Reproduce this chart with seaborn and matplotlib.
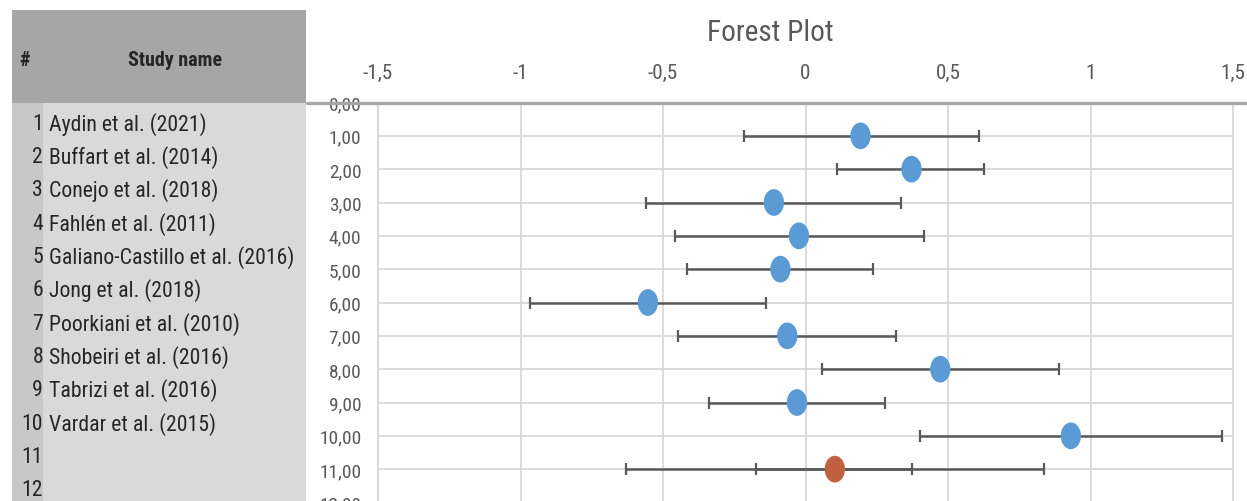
import matplotlib
matplotlib.use("Agg")
import numpy as np
import pandas as pd
import matplotlib.pyplot as plt
import seaborn as sns
from matplotlib import font_manager
from matplotlib.path import Path
from matplotlib.patches import Rectangle
from matplotlib.lines import Line2D
from matplotlib.ticker import FixedLocator, FuncFormatter
from matplotlib.transforms import blended_transform_factory

# ---- data -------------------------------------------------------------
studies = [
    "Aydin et al. (2021)",
    "Buffart et al. (2014)",
    "Conejo et al. (2018)",
    "Fahlén et al. (2011)",
    "Galiano-Castillo et al. (2016)",
    "Jong et al. (2018)",
    "Poorkiani et al. (2010)",
    "Shobeiri et al. (2016)",
    "Tabrizi et al. (2016)",
    "Vardar et al. (2015)",
]
effect = [0.193, 0.372, -0.111, -0.023, -0.088, -0.553, -0.064, 0.473, -0.030, 0.931]
ci_low = [-0.216, 0.109, -0.558, -0.458, -0.415, -0.966, -0.448, 0.058, -0.340, 0.400]
ci_high = [0.608, 0.628, 0.335, 0.415, 0.236, -0.138, 0.319, 0.888, 0.280, 1.461]

pooled_effect = 0.103
pooled_ci = [-0.175, 0.374]
pooled_pi = [-0.630, 0.838]

row_numbers = list(range(1, 13))
x_ticks = [-1.5, -1.0, -0.5, 0.0, 0.5, 1.0, 1.5]
y_ticks = list(range(0, 13))

# ---- style ------------------------------------------------------------
sns.set_theme(style="white")
installed = {f.name for f in font_manager.fontManager.ttflist}
preferred = ["Liberation Sans Narrow", "DejaVu Sans Condensed", "Roboto Condensed",
             "Open Sans Condensed", "Lato"]
FONT = next((f for f in preferred if f in installed), "DejaVu Sans")
plt.rcParams["font.family"] = [FONT, "DejaVu Sans"]

BLUE = "#5b9bd5"
RED = "#c0603f"
BAR = "#595959"
GRID = "#d9d9d9"
TXT_GREY = "#595959"
TXT_DARK = "#262626"

W, H = 1247, 502
fig = plt.figure(figsize=(W / 100, H / 100), dpi=100)
fig.patch.set_facecolor("white")
renderer = fig.canvas.get_renderer()


def fx(px):
    return px / W


def fy(py):
    return 1 - py / H


def fit_size(text, width_px, weight="normal", base=20.0):
    """Font size (pt) at which `text` spans `width_px` pixels."""
    t = fig.text(0, 0, text, fontsize=base, fontweight=weight)
    w = t.get_window_extent(renderer).width
    t.remove()
    return base * width_px / w


size_rows = fit_size("Galiano-Castillo et al. (2016)", 244)
size_ytick = fit_size("10,00", 42)
size_xtick = fit_size("-1,5", 30)
size_title = fit_size("Forest Plot", 126)
size_head = fit_size("Study name", 94, weight="bold")

top_px, bottom_px = 103.5, 503.5
left_px, right_px = 378, 1233
ax = fig.add_axes([fx(left_px), fy(bottom_px), fx(right_px - left_px), (bottom_px - top_px) / H])

df = pd.DataFrame({
    "study": studies,
    "row": np.arange(1, len(studies) + 1),
    "effect": effect,
    "low": ci_low,
    "high": ci_high,
})

# error bars for each study
ax.errorbar(df["effect"], df["row"],
            xerr=[df["effect"] - df["low"], df["high"] - df["effect"]],
            fmt="none", ecolor=BAR, elinewidth=1.8, capsize=4.5, capthick=1.6, zorder=2)

# pooled estimate: prediction interval and confidence interval
pooled_row = len(studies) + 1
for lo, hi in (pooled_pi, pooled_ci):
    ax.errorbar([pooled_effect], [pooled_row],
                xerr=[[pooled_effect - lo], [hi - pooled_effect]],
                fmt="none", ecolor=BAR, elinewidth=1.8, capsize=4.5, capthick=1.6, zorder=2)

# oval markers
circle = Path.unit_circle()
oval = Path(circle.vertices * np.array([0.76, 1.0]), circle.codes)
sns.scatterplot(data=df, x="effect", y="row", ax=ax, marker=oval, s=370,
                color=BLUE, edgecolor="none", linewidth=0, zorder=3, legend=False)
sns.scatterplot(x=[pooled_effect], y=[pooled_row], ax=ax, marker=oval, s=370,
                color=RED, edgecolor="none", linewidth=0, zorder=3, legend=False)

# axes formatting
ax.set_xlim(-1.5, 1.5)
ax.set_ylim(12, 0)
ax.set_xlabel("")
ax.set_ylabel("")
ax.xaxis.set_major_locator(FixedLocator(x_ticks))
ax.yaxis.set_major_locator(FixedLocator(y_ticks))
ax.xaxis.set_major_formatter(FuncFormatter(lambda v, p: f"{v:g}".replace(".", ",")))
ax.yaxis.set_major_formatter(FuncFormatter(lambda v, p: f"{v:.2f}".replace(".", ",")))
ax.xaxis.tick_top()
ax.tick_params(axis="x", length=0, pad=15, labelsize=size_xtick, labelcolor=TXT_GREY)
ax.tick_params(axis="y", length=0, pad=12, labelsize=size_ytick, labelcolor=TXT_GREY)
ax.grid(True, color=GRID, linewidth=1.3)
ax.set_axisbelow(True)
for side in ("top", "bottom"):
    ax.spines[side].set_visible(False)
for side in ("left", "right"):
    ax.spines[side].set_color(GRID)
    ax.spines[side].set_linewidth(1.3)

# heavy rule along the top of the plot area
fig.add_artist(Line2D([fx(307), 1.0], [fy(top_px), fy(top_px)],
                      color="#a6a6a6", linewidth=2.4, transform=fig.transFigure, zorder=5))

# ---- study table on the left -----------------------------------------
fig.add_artist(Rectangle((fx(12), fy(top_px)), fx(306 - 12), (top_px - 11) / H,
                         transform=fig.transFigure, facecolor="#a6a6a6", edgecolor="none", zorder=0))
fig.add_artist(Rectangle((fx(12), 0), fx(43 - 12), fy(top_px),
                         transform=fig.transFigure, facecolor="#c8c8c8", edgecolor="none", zorder=0))
fig.add_artist(Rectangle((fx(43), 0), fx(306 - 43), fy(top_px),
                         transform=fig.transFigure, facecolor="#d9d9d9", edgecolor="none", zorder=0))

fig.text(fx(25), fy(60), "#", ha="center", va="center", fontsize=size_head,
         fontweight="bold", color=TXT_DARK)
fig.text(fx(175), fy(60), "Study name", ha="center", va="center", fontsize=size_head,
         fontweight="bold", color=TXT_DARK)

row_tf = blended_transform_factory(fig.transFigure, ax.transData)
for n in row_numbers:
    ypos = n - 0.38
    fig.text(fx(43), ypos, str(n), transform=row_tf, ha="right", va="center",
             fontsize=size_rows, color=TXT_DARK)
    if n <= len(studies):
        fig.text(fx(49), ypos, studies[n - 1], transform=row_tf, ha="left", va="center",
                 fontsize=size_rows, color=TXT_DARK)

fig.text(fx(770), fy(33), "Forest Plot", ha="center", va="center",
         fontsize=size_title, color=TXT_GREY)

fig.savefig("out.png", dpi=100)
